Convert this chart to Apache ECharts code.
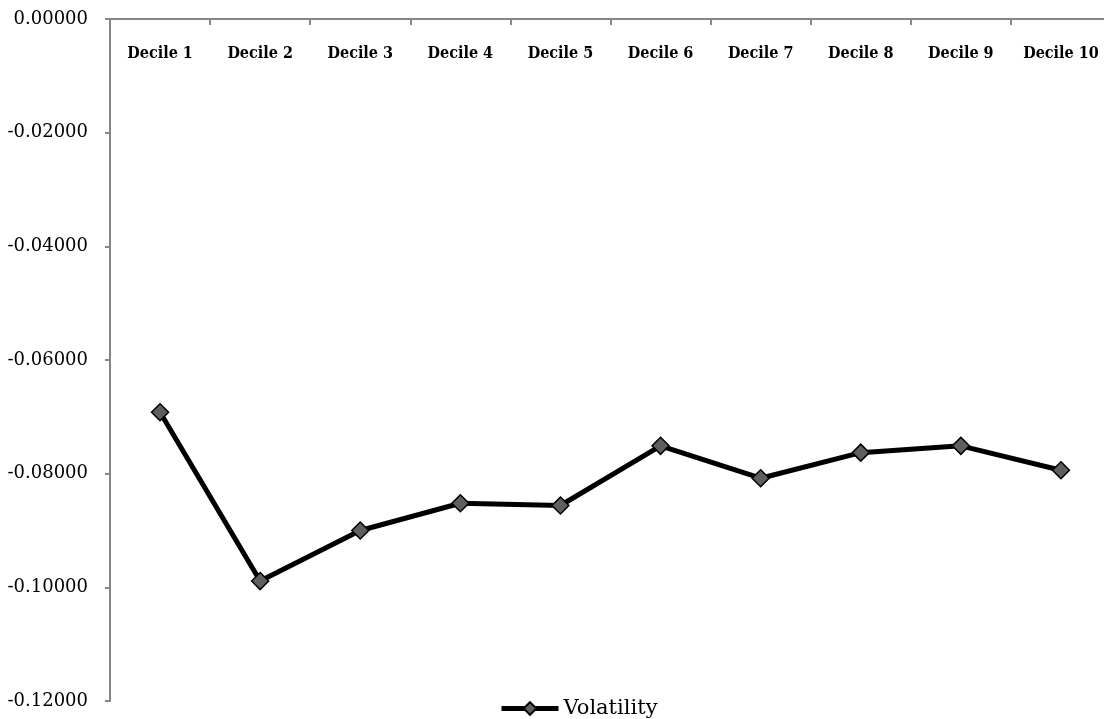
<!DOCTYPE html>
<html>
<head>
    <meta charset="UTF-8">
    <script src="https://cdn.jsdelivr.net/npm/echarts@6/dist/echarts.min.js"></script>
    <style>
        html, body { margin: 0; padding: 0; background: #fff; overflow: hidden; }
        #chart { width: 1124px; height: 719px; }
    </style>
</head>
<body>
<div id="chart"></div>
<script>
    var categories = ['Decile 1', 'Decile 2', 'Decile 3', 'Decile 4', 'Decile 5',
                      'Decile 6', 'Decile 7', 'Decile 8', 'Decile 9', 'Decile 10'];
    var volatility = [-0.0692, -0.0989, -0.0900, -0.0852, -0.0856,
                      -0.0751, -0.0808, -0.0763, -0.0751, -0.0794];
    var seriesName = 'Volatility';

    var serifCond = '"DejaVu Serif Condensed", "DejaVu Serif", serif';
    var serif = '"DejaVu Serif", serif';
    var axisGray = '#868686';

    // the plot runs a few px past the right edge of the window, so the div is wider
    var chart = echarts.init(document.getElementById('chart'));
    chart.setOption({
        animation: false,
        grid: { left: 110, width: 1001, top: 19, bottom: 18, containLabel: false },
        legend: {
            data: [seriesName],
            left: 494,
            bottom: -5,
            itemWidth: 57,
            itemHeight: 16,
            lineStyle: { width: 5, color: '#000' },
            textStyle: { fontFamily: serif, fontSize: 21, color: '#000' }
        },
        xAxis: {
            type: 'category',
            position: 'top',
            data: categories,
            boundaryGap: true,
            axisLine: { lineStyle: { color: axisGray, width: 2 } },
            axisTick: { show: true, inside: true, length: 6, lineStyle: { color: axisGray, width: 2 } },
            axisLabel: {
                inside: true,
                margin: 27,
                fontFamily: serifCond,
                fontWeight: 'bold',
                fontSize: 16,
                color: '#000'
            },
            splitLine: { show: false }
        },
        yAxis: {
            type: 'value',
            min: -0.12,
            max: 0,
            interval: 0.02,
            axisLine: { show: true, lineStyle: { color: axisGray, width: 2 } },
            axisTick: { show: true, length: 5, lineStyle: { color: axisGray, width: 2 } },
            axisLabel: {
                margin: 22,
                fontFamily: serif,
                fontSize: 18,
                color: '#000',
                formatter: function (v) { return v.toFixed(5); }
            },
            splitLine: { show: false }
        },
        series: [{
            name: seriesName,
            type: 'line',
            data: volatility,
            symbol: 'diamond',
            symbolSize: 17,
            lineStyle: { color: '#000', width: 5 },
            itemStyle: { color: '#5f5f5f', borderColor: '#000', borderWidth: 1.5 }
        }]
    });
</script>
</body>
</html>
